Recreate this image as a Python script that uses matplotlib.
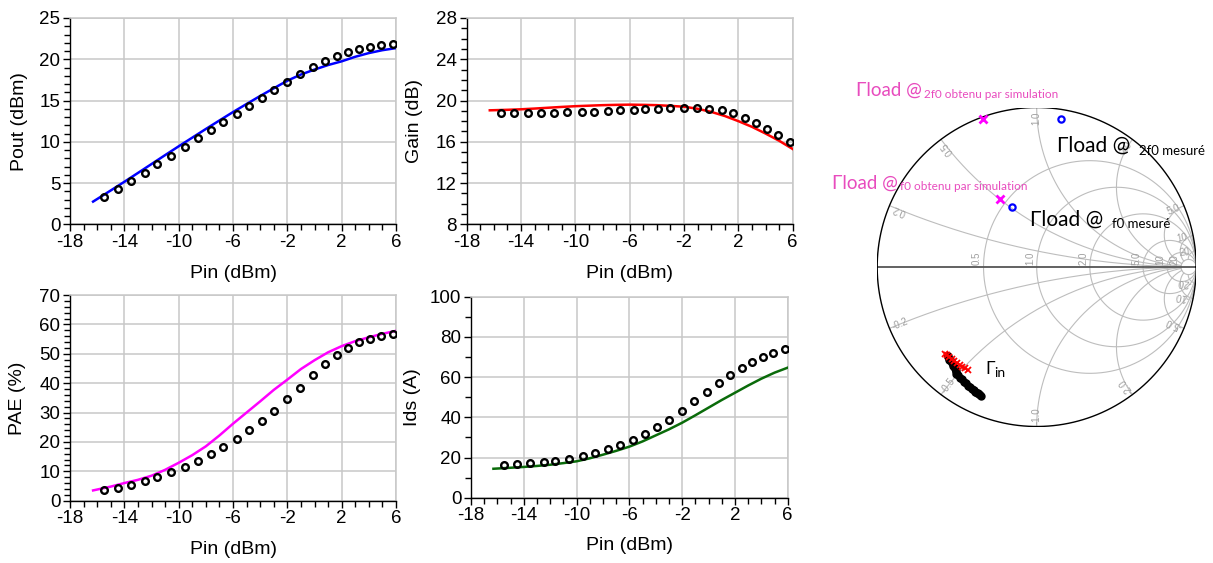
import numpy as np
import matplotlib.pyplot as plt
from matplotlib.ticker import MultipleLocator

plt.rcParams['font.family'] = ['Liberation Sans', 'DejaVu Sans']
plt.rcParams['axes.unicode_minus'] = False

# --- mesures (points noirs)
pin_mes = [-15.5, -14.5, -13.5, -12.5, -11.6, -10.6, -9.5, -8.6, -7.6, -6.7, -5.7, -4.85,
           -3.9, -3.0, -2.0, -1.07, -0.14, 0.77, 1.63, 2.5, 3.3, 4.1, 4.9, 5.8]
pout_mes = [3.3, 4.3, 5.3, 6.2, 7.25, 8.3, 9.35, 10.4, 11.4, 12.4, 13.4, 14.35,
            15.3, 16.3, 17.3, 18.2, 19.1, 19.8, 20.4, 20.9, 21.2, 21.5, 21.7, 21.9]
gain_mes = [18.8, 18.8, 18.8, 18.8, 18.8, 18.85, 18.9, 18.9, 19.0, 19.05, 19.1, 19.2,
            19.2, 19.3, 19.3, 19.25, 19.2, 19.05, 18.75, 18.35, 17.85, 17.25, 16.7, 16.0]
pae_mes = [3.6, 4.4, 5.4, 6.6, 7.9, 9.6, 11.6, 13.6, 15.9, 18.4, 21.0, 23.9,
           27.0, 30.5, 34.6, 38.5, 42.7, 46.5, 49.7, 52.1, 53.9, 55.1, 56.0, 56.6]
ids_mes = [16.3, 16.6, 17.1, 17.6, 18.4, 19.4, 20.7, 22.2, 24.0, 26.4, 28.9, 31.8,
           35.2, 38.8, 43.3, 47.9, 52.6, 57.2, 61.2, 64.7, 67.5, 69.8, 72.0, 74.1]

# --- simulation (courbes)
pin_sim = [-16.3, -15, -14, -13, -12, -11, -10, -9, -8, -7, -6, -5, -4, -3, -2, -1,
           0, 1, 2, 3, 4, 5, 6]
pout_sim = [2.75, 4.1, 5.15, 6.22, 7.3, 8.38, 9.45, 10.5, 11.55, 12.58, 13.6, 14.58,
            15.55, 16.48, 17.4, 18.15, 18.75, 19.3, 19.75, 20.3, 20.75, 21.1, 21.35]
gain_sim = [19.05, 19.1, 19.15, 19.22, 19.3, 19.38, 19.45, 19.5, 19.55, 19.58, 19.6, 19.58,
            19.55, 19.48, 19.4, 19.2, 18.9, 18.5, 18.0, 17.45, 16.8, 16.1, 15.3]
pae_sim = [3.5, 4.8, 6.0, 7.1, 8.5, 10.5, 12.9, 15.5, 18.5, 22.2, 26.2, 30.0,
           33.8, 37.7, 41.2, 44.8, 47.8, 50.5, 52.6, 54.3, 55.6, 56.8, 57.8]
ids_sim = [14.4, 14.9, 15.3, 15.8, 16.4, 17.2, 18.1, 19.6, 21.4, 23.3, 25.4, 28.0,
           31.0, 34.0, 37.3, 41.0, 44.8, 48.6, 52.2, 55.8, 59.2, 62.2, 64.7]

# --- abaque de Smith
gin_mes_re = [-0.559, -0.553, -0.547, -0.537, -0.528, -0.522, -0.515, -0.509, -0.503, -0.493,
              -0.481, -0.468, -0.456, -0.443, -0.431, -0.418, -0.406, -0.393, -0.384, -0.374,
              -0.368, -0.362, -0.357, -0.352]
gin_mes_im = [-0.555, -0.567, -0.580, -0.592, -0.605, -0.621, -0.636, -0.652, -0.668, -0.680,
              -0.693, -0.705, -0.718, -0.730, -0.743, -0.752, -0.762, -0.771, -0.781, -0.787,
              -0.793, -0.799, -0.802, -0.806]
gin_sim_re = [-0.575, -0.564, -0.550, -0.533, -0.517, -0.500, -0.483, -0.466, -0.450, -0.433]
gin_sim_im = [-0.545, -0.552, -0.562, -0.575, -0.588, -0.600, -0.613, -0.625, -0.635, -0.646]
gload_sim_re = [-0.230, -0.339]   # f0, 2f0
gload_sim_im = [0.424, 0.926]
gload_mes_re = [-0.155, 0.150]
gload_mes_im = [0.376, 0.926]

r_grid = [0.5, 1.0, 2.0, 5.0, 10, 20]
x_grid = [0.2, 0.5, 1.0, 2.0, 5.0, 10, 20]
pin_ticks = [-18, -14, -10, -6, -2, 2, 6]

W, H = 1213, 563
fig = plt.figure(figsize=(W / 100, H / 100), dpi=100)


def box(l, t, r, b):
    return [l / W, 1 - b / H, (r - l) / W, (b - t) / H]


panels = [
    (box(70, 18, 396, 224.3), pout_sim, pout_mes, '#0000FF', 'Pout (dBm)', (0, 25, 5, 1), -0.128),
    (box(466.7, 18, 792.7, 224.3), gain_sim, gain_mes, '#FF0000', 'Gain (dB)', (8, 28, 4, 1), -0.133),
    (box(70, 295, 396, 500.7), pae_sim, pae_mes, '#FF00FF', 'PAE (%)', (0, 70, 10, 2), -0.134),
    (box(471, 296.7, 787.7, 497.7), ids_sim, ids_mes, '#0A6B0A', 'Ids (A)', (0, 100, 20, 10), -0.157),
]

for rect, ysim, ymes, col, ylab, (y0, y1, ymaj, ymin), ylx in panels:
    ax = fig.add_axes(rect)
    ax.plot(pin_sim, ysim, color=col, lw=1.8, zorder=3)
    ax.plot(pin_mes, ymes, 'o', ms=4.8, mfc='none', mec='black', mew=1.7, zorder=4)
    ax.set_xlim(-18, 6)
    ax.set_ylim(y0, y1)
    ax.set_xticks(pin_ticks)
    ax.xaxis.set_minor_locator(MultipleLocator(1))
    ax.yaxis.set_major_locator(MultipleLocator(ymaj))
    ax.yaxis.set_minor_locator(MultipleLocator(ymin))
    ax.grid(True, which='major', color='#c8c8c8', lw=1.1)
    ax.set_axisbelow(True)
    for s in ('top', 'right'):
        ax.spines[s].set_color('#c8c8c8')
        ax.spines[s].set_linewidth(1.1)
    for s in ('left', 'bottom'):
        ax.spines[s].set_color('black')
        ax.spines[s].set_linewidth(1.0)
    ax.tick_params(which='major', direction='out', length=5, width=1, labelsize=13.5, pad=2)
    ax.tick_params(which='minor', direction='out', length=4, width=1)
    ax.set_xlabel('Pin (dBm)', fontsize=14)
    ax.set_ylabel(ylab, fontsize=14)
    ax.xaxis.set_label_coords(0.5, -0.195)
    ax.yaxis.set_label_coords(ylx, 0.5)

# --- Smith chart
sx = fig.add_axes(box(877.2, 107.5, 1196.2, 426.5))
sx.set_xlim(-1, 1)
sx.set_ylim(-1, 1)
sx.axis('off')

grid_col = '#bdbdbd'
lab_col = '#a0a0a0'
t = np.linspace(0, 2 * np.pi, 400)
for r in r_grid:
    c, rad = r / (1 + r), 1 / (1 + r)
    sx.plot(c + rad * np.cos(t), rad * np.sin(t), color=grid_col, lw=0.8)
    sx.text((r - 1) / (r + 1) - 0.01, 0.015, f'{r:.1f}' if r < 10 else f'{r:d}',
            rotation=90, ha='right', va='bottom', fontsize=7, color=lab_col)

rr = np.concatenate([np.linspace(0, 1, 100), np.logspace(0, 1.3, 150)])
for xv in x_grid:
    for sgn in (1, -1):
        z = rr + 1j * sgn * xv
        g = (z - 1) / (z + 1)
        sx.plot(g.real, g.imag, color=grid_col, lw=0.8)
        ge = (1j * sgn * xv - 1) / (1j * sgn * xv + 1)
        th = np.degrees(np.angle(ge))
        lab = f'{xv:.1f}' if xv < 10 else f'{xv:d}'
        if sgn < 0:
            lab = '-' + lab
            rot = th + 180
        else:
            rot = th
        sx.text(0.93 * ge.real, 0.93 * ge.imag, lab, rotation=rot, rotation_mode='anchor',
                ha='center', va='center', fontsize=7, color=lab_col)

sx.plot([-1, 1], [0, 0], color='#555555', lw=1.3)
sx.plot(np.cos(t), np.sin(t), color='black', lw=1.0)

sx.plot(gin_mes_re, gin_mes_im, color='black', lw=5, solid_capstyle='round', zorder=4)
sx.plot(gin_mes_re, gin_mes_im, 'o', ms=5, color='black', zorder=4)
sx.plot(gin_sim_re, gin_sim_im, '-x', color='#FF0000', lw=1.2, ms=4, mew=1.3, zorder=5)
sx.plot(gload_sim_re, gload_sim_im, 'x', color='#FF00FF', ms=5.5, mew=2, zorder=5)
sx.plot(gload_mes_re, gload_mes_im, 'o', ms=4.5, mfc='none', mec='#0000FF', mew=1.6, zorder=5)

pink = '#E84CBE'
big_f = ['Lato', 'DejaVu Sans']
sx.text(-1.130, 1.072, 'Γload @', color=pink, fontsize=13.5, family=big_f)
sx.text(-0.705, 1.062, '2f0 obtenu par simulation', color=pink, fontsize=8.5, family=big_f)
sx.text(0.125, 0.723, 'Γload @', color='black', fontsize=15, family=big_f)
sx.text(0.643, 0.702, '2f0 mesuré', color='black', fontsize=9.5, family=big_f)
sx.text(-1.285, 0.493, 'Γload @', color=pink, fontsize=13.5, family=big_f)
sx.text(-0.857, 0.483, 'f0 obtenu par simulation', color=pink, fontsize=8.5, family=big_f)
sx.text(-0.042, 0.259, 'Γload @', color='black', fontsize=15, family=big_f)
sx.text(0.470, 0.243, 'f0 mesuré', color='black', fontsize=9.5, family=big_f)
sx.text(-0.320, -0.671, 'Γ', color='black', fontsize=12.5, family=big_f)
sx.text(-0.268, -0.690, 'in', color='black', fontsize=10, family=big_f)

fig.savefig('out.png', dpi=100)
